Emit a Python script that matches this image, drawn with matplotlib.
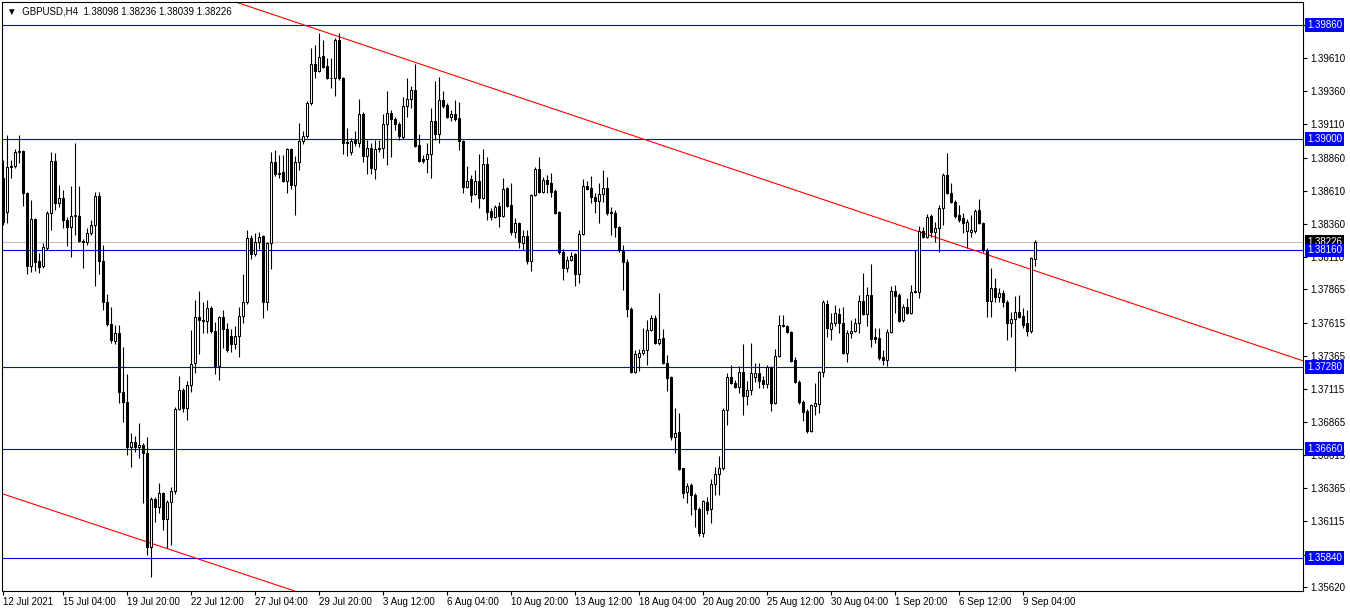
import matplotlib
matplotlib.use("Agg")
import matplotlib.pyplot as plt
from matplotlib.transforms import blended_transform_factory

# GBPUSD H4, one bar every 4 hours, bar 0 = 12 Jul 2021 16:00
opens = [
    1.38707, 1.38451, 1.38790, 1.38797, 1.38903, 1.38910, 1.38593, 1.38043, 1.38398, 1.38081,
    1.38043, 1.38180, 1.38443, 1.38835, 1.38518, 1.38556, 1.38390, 1.38337, 1.38420, 1.38420,
    1.38232, 1.38224, 1.38292, 1.38352, 1.38571, 1.38081, 1.37772, 1.37606, 1.37477, 1.37538,
    1.37093, 1.37018, 1.36679, 1.36716, 1.36679, 1.36694, 1.36634, 1.35924, 1.36287, 1.36227,
    1.36332, 1.36136, 1.36264, 1.36347, 1.36965, 1.37108, 1.36973, 1.37146, 1.37312, 1.37659,
    1.37636, 1.37629, 1.37727, 1.37553, 1.37289, 1.37659, 1.37568, 1.37515, 1.37455, 1.37515,
    1.37667, 1.37772, 1.38254, 1.38134, 1.38224, 1.38270, 1.37772, 1.38217, 1.38828, 1.38737,
    1.38752, 1.38684, 1.38926, 1.38654, 1.38828, 1.38986, 1.39024, 1.39272, 1.39566, 1.39514,
    1.39627, 1.39551, 1.39461, 1.39461, 1.39747, 1.39461, 1.38971, 1.38903, 1.38993, 1.38971,
    1.39189, 1.38873, 1.38933, 1.38775, 1.38926, 1.38933, 1.39114, 1.39197, 1.39152, 1.39114,
    1.39016, 1.39250, 1.39302, 1.39370, 1.38956, 1.38850, 1.38850, 1.38888, 1.39137, 1.39039,
    1.39295, 1.39257, 1.39167, 1.39189, 1.39160, 1.38986, 1.38639, 1.38699, 1.38586, 1.38684,
    1.38556, 1.38812, 1.38458, 1.38413, 1.38496, 1.38420, 1.38631, 1.38503, 1.38300, 1.38367,
    1.38217, 1.38270, 1.38081, 1.38578, 1.38775, 1.38601, 1.38692, 1.38669, 1.38609, 1.38451,
    1.38149, 1.38028, 1.38089, 1.38134, 1.37983, 1.38285, 1.38647, 1.38631, 1.38563, 1.38533,
    1.38586, 1.38631, 1.38451, 1.38443, 1.38337, 1.38164, 1.38074, 1.37719, 1.37244, 1.37357,
    1.37387, 1.37410, 1.37561, 1.37651, 1.37463, 1.37500, 1.37312, 1.37206, 1.36754, 1.36792,
    1.36520, 1.36339, 1.36392, 1.36317, 1.36211, 1.36030, 1.36264, 1.36211, 1.36400, 1.36475,
    1.36520, 1.36958, 1.37206, 1.37161, 1.37131, 1.37244, 1.37063, 1.37108, 1.37206, 1.37236,
    1.37184, 1.37154, 1.37282, 1.37010, 1.37365, 1.37598, 1.37591, 1.37546, 1.37335, 1.37169,
    1.37018, 1.36950, 1.36799, 1.36988, 1.37003, 1.37244, 1.37757, 1.37568, 1.37614, 1.37682,
    1.37614, 1.37387, 1.37538, 1.37553, 1.37614, 1.37780, 1.37682, 1.37825, 1.37508, 1.37500,
    1.37357, 1.37335, 1.37546, 1.37855, 1.37825, 1.37636, 1.37735, 1.37689, 1.37847, 1.37847,
    1.38307, 1.38262, 1.38420, 1.38300, 1.38330, 1.38481, 1.38729, 1.38593, 1.38526, 1.38428,
    1.38405, 1.38307, 1.38300, 1.38307, 1.38466, 1.38367, 1.38164, 1.37780, 1.37877, 1.37810,
    1.37840, 1.37772, 1.37614, 1.37644, 1.37697, 1.37667, 1.37614, 1.37553, 1.38098,
]
highs = [
    1.38843, 1.39031, 1.38843, 1.38926, 1.39031, 1.38918, 1.38601, 1.38541, 1.38405, 1.38141,
    1.38217, 1.38458, 1.38903, 1.38895, 1.38654, 1.38616, 1.38413, 1.38647, 1.38971, 1.38647,
    1.38247, 1.38330, 1.38390, 1.38601, 1.38601, 1.38202, 1.37832, 1.37735, 1.37598, 1.37598,
    1.37432, 1.37229, 1.36784, 1.36761, 1.36860, 1.36709, 1.36754, 1.36302, 1.36302, 1.36407,
    1.36339, 1.36279, 1.36377, 1.36980, 1.37214, 1.37123, 1.37176, 1.37561, 1.37787, 1.37855,
    1.37772, 1.37787, 1.37742, 1.37621, 1.37667, 1.37712, 1.37614, 1.37568, 1.37591, 1.37735,
    1.37983, 1.38315, 1.38277, 1.38292, 1.38300, 1.38277, 1.38224, 1.38903, 1.38918, 1.38880,
    1.38880, 1.38933, 1.38933, 1.38873, 1.39122, 1.39061, 1.39287, 1.39687, 1.39710, 1.39800,
    1.39747, 1.39612, 1.39612, 1.39762, 1.39800, 1.39468, 1.39084, 1.39009, 1.39061, 1.39302,
    1.39205, 1.38993, 1.38971, 1.38993, 1.38993, 1.39189, 1.39363, 1.39220, 1.39167, 1.39129,
    1.39317, 1.39461, 1.39400, 1.39566, 1.39039, 1.38880, 1.38971, 1.39235, 1.39438, 1.39468,
    1.39363, 1.39272, 1.39220, 1.39295, 1.39280, 1.38993, 1.38797, 1.38729, 1.38767, 1.38888,
    1.38926, 1.38865, 1.38481, 1.38503, 1.38526, 1.38707, 1.38639, 1.38669, 1.38405, 1.38375,
    1.38315, 1.38315, 1.38586, 1.38790, 1.38865, 1.38714, 1.38729, 1.38745, 1.38624, 1.38458,
    1.38172, 1.38119, 1.38149, 1.38141, 1.38315, 1.38699, 1.38684, 1.38722, 1.38593, 1.38669,
    1.38767, 1.38714, 1.38488, 1.38466, 1.38345, 1.38202, 1.38096, 1.37735, 1.37410, 1.37417,
    1.37576, 1.37636, 1.37674, 1.37674, 1.37840, 1.37568, 1.37372, 1.37214, 1.36973, 1.36935,
    1.36520, 1.36407, 1.36407, 1.36332, 1.36226, 1.36279, 1.36302, 1.36437, 1.36528, 1.36611,
    1.36973, 1.37236, 1.37297, 1.37184, 1.37289, 1.37455, 1.37176, 1.37463, 1.37312, 1.37312,
    1.37214, 1.37297, 1.37289, 1.37417, 1.37674, 1.37674, 1.37598, 1.37553, 1.37357, 1.37184,
    1.37033, 1.36965, 1.37003, 1.37161, 1.37251, 1.37787, 1.37787, 1.37689, 1.37750, 1.37727,
    1.37735, 1.37561, 1.37636, 1.37651, 1.37825, 1.37991, 1.37885, 1.38058, 1.37576, 1.37576,
    1.37410, 1.37568, 1.37892, 1.37900, 1.37840, 1.37757, 1.37802, 1.37900, 1.38164, 1.38345,
    1.38337, 1.38435, 1.38435, 1.38375, 1.38503, 1.38745, 1.38895, 1.38669, 1.38541, 1.38503,
    1.38443, 1.38398, 1.38428, 1.38473, 1.38548, 1.38375, 1.38179, 1.38028, 1.37953, 1.37877,
    1.37862, 1.37787, 1.37697, 1.37817, 1.37825, 1.37727, 1.37712, 1.38111, 1.38236,
]
lows = [
    1.38352, 1.38367, 1.38707, 1.38782, 1.38820, 1.38496, 1.37983, 1.37998, 1.38005, 1.37990,
    1.38028, 1.38164, 1.38315, 1.38466, 1.38488, 1.38330, 1.38194, 1.38111, 1.38277, 1.38224,
    1.38028, 1.38202, 1.38277, 1.37892, 1.37983, 1.37712, 1.37591, 1.37462, 1.37455, 1.37010,
    1.36867, 1.36619, 1.36528, 1.36641, 1.36596, 1.36256, 1.35864, 1.35698, 1.36113, 1.36181,
    1.36053, 1.35917, 1.35939, 1.36324, 1.36958, 1.36942, 1.36882, 1.37093, 1.37236, 1.37380,
    1.37538, 1.37538, 1.37538, 1.37229, 1.37184, 1.37425, 1.37395, 1.37395, 1.37417, 1.37357,
    1.37614, 1.37757, 1.38096, 1.38119, 1.38172, 1.37651, 1.37712, 1.38021, 1.38722, 1.38707,
    1.38677, 1.38593, 1.38624, 1.38428, 1.38767, 1.38963, 1.39009, 1.39257, 1.39461, 1.39506,
    1.39536, 1.39453, 1.39385, 1.39325, 1.39446, 1.38888, 1.38873, 1.38880, 1.38948, 1.38941,
    1.38828, 1.38737, 1.38737, 1.38699, 1.38903, 1.38858, 1.38805, 1.38865, 1.39069, 1.38993,
    1.39001, 1.39167, 1.39235, 1.38941, 1.38828, 1.38820, 1.38745, 1.38707, 1.38993, 1.38971,
    1.39235, 1.39160, 1.39137, 1.39137, 1.38918, 1.38593, 1.38631, 1.38526, 1.38578, 1.38481,
    1.38548, 1.38390, 1.38390, 1.38405, 1.38337, 1.38413, 1.38488, 1.38277, 1.38254, 1.38179,
    1.38164, 1.38058, 1.38005, 1.38571, 1.38593, 1.38593, 1.38593, 1.38563, 1.38435, 1.38134,
    1.37938, 1.37998, 1.38081, 1.37892, 1.37915, 1.38277, 1.38616, 1.38518, 1.38443, 1.38367,
    1.38526, 1.38428, 1.38277, 1.38262, 1.38149, 1.37862, 1.37659, 1.37236, 1.37236, 1.37251,
    1.37372, 1.37297, 1.37553, 1.37455, 1.37448, 1.37305, 1.37101, 1.36731, 1.36634, 1.36505,
    1.36294, 1.36256, 1.36166, 1.36075, 1.36007, 1.36000, 1.36173, 1.36105, 1.36317, 1.36317,
    1.36505, 1.36844, 1.37154, 1.37123, 1.37086, 1.36920, 1.36995, 1.37071, 1.37169, 1.37123,
    1.37123, 1.37123, 1.36950, 1.37003, 1.37357, 1.37583, 1.37538, 1.37319, 1.37161, 1.37003,
    1.36875, 1.36784, 1.36792, 1.36920, 1.36935, 1.37206, 1.37508, 1.37485, 1.37591, 1.37538,
    1.37380, 1.37319, 1.37500, 1.37546, 1.37538, 1.37674, 1.37591, 1.37432, 1.37463, 1.37335,
    1.37297, 1.37289, 1.37538, 1.37689, 1.37621, 1.37621, 1.37682, 1.37682, 1.37840, 1.37802,
    1.38254, 1.38254, 1.38262, 1.38224, 1.38149, 1.38352, 1.38586, 1.38518, 1.38405, 1.38375,
    1.38292, 1.38179, 1.38262, 1.38292, 1.38360, 1.38149, 1.37659, 1.37659, 1.37772, 1.37772,
    1.37735, 1.37485, 1.37508, 1.37251, 1.37651, 1.37576, 1.37515, 1.37538, 1.38039,
]
closes = [
    1.38375, 1.38790, 1.38798, 1.38903, 1.38910, 1.38593, 1.38043, 1.38398, 1.38074, 1.38036,
    1.38187, 1.38443, 1.38835, 1.38518, 1.38556, 1.38390, 1.38337, 1.38420, 1.38425, 1.38232,
    1.38224, 1.38292, 1.38352, 1.38571, 1.38081, 1.37772, 1.37606, 1.37485, 1.37538, 1.37093,
    1.37018, 1.36679, 1.36716, 1.36679, 1.36694, 1.36634, 1.35924, 1.36287, 1.36227, 1.36332,
    1.36136, 1.36264, 1.36347, 1.36965, 1.37108, 1.36973, 1.37146, 1.37305, 1.37659, 1.37636,
    1.37629, 1.37727, 1.37553, 1.37289, 1.37659, 1.37568, 1.37410, 1.37455, 1.37515, 1.37667,
    1.37772, 1.38254, 1.38134, 1.38224, 1.38262, 1.37772, 1.38217, 1.38828, 1.38737, 1.38745,
    1.38684, 1.38926, 1.38654, 1.38828, 1.38986, 1.39024, 1.39272, 1.39566, 1.39514, 1.39619,
    1.39544, 1.39461, 1.39461, 1.39747, 1.39461, 1.38971, 1.38978, 1.38986, 1.38971, 1.39189,
    1.38873, 1.38933, 1.38782, 1.38926, 1.38933, 1.39114, 1.39197, 1.39152, 1.39114, 1.39024,
    1.39250, 1.39302, 1.39370, 1.38948, 1.38835, 1.38835, 1.38888, 1.39137, 1.39039, 1.39295,
    1.39250, 1.39167, 1.39189, 1.39152, 1.38986, 1.38639, 1.38684, 1.38578, 1.38684, 1.38556,
    1.38812, 1.38451, 1.38413, 1.38488, 1.38420, 1.38624, 1.38496, 1.38300, 1.38367, 1.38224,
    1.38270, 1.38081, 1.38578, 1.38775, 1.38601, 1.38692, 1.38662, 1.38601, 1.38443, 1.38149,
    1.38028, 1.38089, 1.38119, 1.37983, 1.38285, 1.38647, 1.38624, 1.38563, 1.38533, 1.38586,
    1.38631, 1.38443, 1.38443, 1.38337, 1.38164, 1.38074, 1.37719, 1.37244, 1.37380, 1.37387,
    1.37410, 1.37561, 1.37651, 1.37463, 1.37493, 1.37312, 1.37199, 1.36754, 1.36784, 1.36513,
    1.36332, 1.36385, 1.36317, 1.36211, 1.36030, 1.36272, 1.36204, 1.36400, 1.36475, 1.36520,
    1.36958, 1.37206, 1.37161, 1.37131, 1.37244, 1.37063, 1.37108, 1.37236, 1.37236, 1.37176,
    1.37154, 1.37282, 1.37010, 1.37365, 1.37598, 1.37591, 1.37546, 1.37327, 1.37169, 1.37018,
    1.36942, 1.36799, 1.36995, 1.37010, 1.37244, 1.37772, 1.37576, 1.37614, 1.37689, 1.37614,
    1.37387, 1.37538, 1.37553, 1.37614, 1.37780, 1.37682, 1.37825, 1.37493, 1.37493, 1.37350,
    1.37335, 1.37546, 1.37855, 1.37817, 1.37629, 1.37735, 1.37689, 1.37847, 1.37855, 1.38307,
    1.38262, 1.38413, 1.38300, 1.38330, 1.38481, 1.38729, 1.38593, 1.38526, 1.38420, 1.38390,
    1.38367, 1.38375, 1.38315, 1.38458, 1.38367, 1.38164, 1.37780, 1.37877, 1.37810, 1.37840,
    1.37772, 1.37614, 1.37644, 1.37697, 1.37659, 1.37598, 1.37553, 1.38104, 1.38226,
]

# horizontal levels drawn by the trader
levels = [1.39860, 1.39000, 1.38160, 1.37280, 1.36660, 1.35840]
bid = 1.38226

# trend lines, two anchors each: (bar index, price)
trend_upper = [(74, 1.39873), (259, 1.37996)]
trend_lower = [(24, 1.36081), (49, 1.35830)]

# price scale (labels hidden under a level box are left blank)
price_ticks = [1.39860, 1.39610, 1.39360, 1.39110, 1.38860, 1.38610, 1.38360, 1.38110,
               1.37865, 1.37615, 1.37365, 1.37115, 1.36865, 1.36615, 1.36365, 1.36115,
               1.35865, 1.35620]
hidden_ticks = [1.39860, 1.35865]

# time scale
date_bars = [0, 15, 31, 47, 63, 79, 95, 111, 127, 143, 159, 175, 191, 207, 223, 239, 255]
date_labels = ["12 Jul 2021", "15 Jul 04:00", "19 Jul 20:00", "22 Jul 12:00", "27 Jul 04:00",
               "29 Jul 20:00", "3 Aug 12:00", "6 Aug 04:00", "10 Aug 20:00", "13 Aug 12:00",
               "18 Aug 04:00", "20 Aug 20:00", "25 Aug 12:00", "30 Aug 04:00", "1 Sep 20:00",
               "6 Sep 12:00", "9 Sep 04:00"]

title = "\u25BC  GBPUSD,H4  1.38098 1.38236 1.38039 1.38226"

plt.rcParams["font.family"] = ["Liberation Sans", "DejaVu Sans"]
W, H = 1350, 611
FS = 7
fig = plt.figure(figsize=(W / 100, H / 100), dpi=100)
ax = fig.add_axes([2 / W, 20 / H, 1301 / W, 589 / H])
ax.set_xlim(-0.25, 325)
ax.set_ylim(1.355899, 1.400335)

# levels and trend lines under the candles
for p in levels:
    ax.axhline(p, color="#0000ff", lw=0.8, zorder=1)
ax.axhline(bid, color="#c0c0c0", lw=0.8, zorder=1)
ax.axline(trend_upper[0], trend_upper[1], color="red", lw=0.8, zorder=1.5)
ax.axline(trend_lower[0], trend_lower[1], color="red", lw=0.8, zorder=1.5)

# candles
xs = list(range(len(closes)))
ax.vlines(xs, lows, highs, color="black", lw=0.8, zorder=2)
bottoms = [min(o, c) for o, c in zip(opens, closes)]
heights = [abs(c - o) for o, c in zip(opens, closes)]
fills = ["white" if c >= o else "black" for o, c in zip(opens, closes)]
ax.bar(xs, heights, width=0.5, bottom=bottoms, color=fills, edgecolor="black",
       linewidth=0.75, zorder=3)

# axes styling
for s in ax.spines.values():
    s.set_color("black")
    s.set_linewidth(0.8)
ax.yaxis.tick_right()
ax.set_yticks(price_ticks)
ax.set_yticklabels(["" if p in hidden_ticks else f"{p:.5f}" for p in price_ticks])
ax.tick_params(axis="y", direction="out", length=3, width=0.8, labelsize=FS, pad=2)
ax.set_xticks(date_bars)
ax.set_xticklabels(date_labels, ha="left")
ax.tick_params(axis="x", direction="out", length=3, width=0.8, labelsize=FS, pad=1)

# price labels on the scale
tr = blended_transform_factory(fig.transFigure, ax.transData)
fig.text(1307 / W, bid, f"{bid:.5f}", transform=tr, color="white", fontsize=FS,
         va="center", ha="left",
         bbox=dict(boxstyle="square,pad=0.18", fc="black", ec="none"))
for p in levels:
    fig.text(1307 / W, p, f"{p:.5f}", transform=tr, color="white", fontsize=FS,
             va="center", ha="left",
             bbox=dict(boxstyle="square,pad=0.18", fc="#0000ff", ec="none"))

fig.text(7 / W, 1 - 11 / H, title, fontsize=FS, va="center", ha="left")

fig.savefig("out.png", dpi=100, facecolor="white")
